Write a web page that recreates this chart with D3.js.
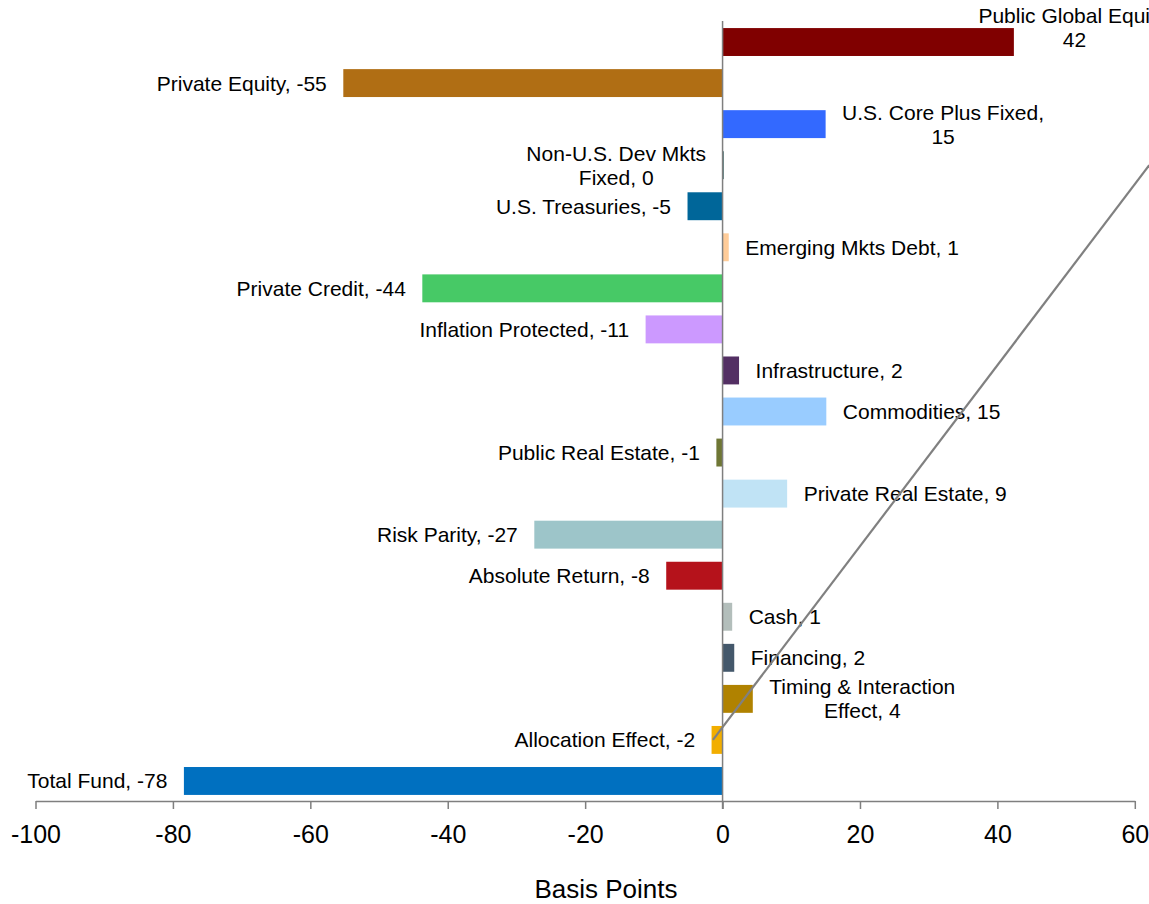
<!DOCTYPE html>
<html>
<head>
<meta charset="utf-8">
<script src="https://cdn.jsdelivr.net/npm/d3@7/dist/d3.min.js"></script>
<style>
  html, body { margin: 0; padding: 0; background: #fff; }
  svg { display: block; font-family: "Liberation Sans", Arial, sans-serif; }
</style>
</head>
<body>
<svg id="chart" width="1149" height="904"></svg>
<script>
// ---- data ----
const categories = [
  "Public Global Equity", "Private Equity", "U.S. Core Plus Fixed", "Non-U.S. Dev Mkts Fixed",
  "U.S. Treasuries", "Emerging Mkts Debt", "Private Credit", "Inflation Protected",
  "Infrastructure", "Commodities", "Public Real Estate", "Private Real Estate",
  "Risk Parity", "Absolute Return", "Cash", "Financing",
  "Timing & Interaction Effect", "Allocation Effect", "Total Fund"
];
const values = [
  42.4, -55.2, 15.0, 0.15,
  -5.1, 0.9, -43.7, -11.2,
  2.4, 15.1, -0.9, 9.4,
  -27.4, -8.2, 1.4, 1.7,
  4.4, -1.6, -78.4
];
const labelValues = [42, -55, 15, 0, -5, 1, -44, -11, 2, 15, -1, 9, -27, -8, 1, 2, 4, -2, -78];
const colors = [
  "#800000", "#B06E14", "#3369FF", "#003B3B",
  "#006699", "#FFCC99", "#47C966", "#CC99FF",
  "#532F63", "#99CCFF", "#6F7735", "#C0E3F5",
  "#9DC5C9", "#B5121B", "#B3BEBB", "#44586B",
  "#B08200", "#F2AE00", "#0070C0"
];
const wrapFirstLine = {
  "Public Global Equity": "Public Global Equity,",
  "U.S. Core Plus Fixed": "U.S. Core Plus Fixed,",
  "Non-U.S. Dev Mkts Fixed": "Non-U.S. Dev Mkts",
  "Timing & Interaction Effect": "Timing & Interaction"
};
const xTicks = [-100, -80, -60, -40, -20, 0, 20, 40, 60];
const xTitle = "Basis Points";
// grey connector line in data coordinates
const guideLine = [
  { cat: "Allocation Effect", v: -1.4 },
  { cat: "Non-U.S. Dev Mkts Fixed", v: 62.1 }
];

// ---- layout ----
const svg = d3.select("#chart");
const x = d3.scaleLinear().domain([-100, 60]).range([35.5, 1134.8]);
const y = d3.scaleBand().domain(categories).range([21.5, 801.5])
  .paddingInner(0.32).paddingOuter(0.16);
const axisY = 801;
const LABEL_FS = 21, LINE_H = 24, GAP = 16.5;

const rows = categories.map((c, i) => ({ cat: c, v: values[i], lv: labelValues[i], color: colors[i] }));

// bars
svg.append("g").selectAll("rect").data(rows).join("rect")
  .attr("x", d => x(Math.min(0, d.v)))
  .attr("y", d => y(d.cat))
  .attr("width", d => Math.max(1, Math.abs(x(d.v) - x(0))))
  .attr("height", y.bandwidth())
  .attr("fill", d => d.color);

// zero line
svg.append("line")
  .attr("x1", x(0)).attr("x2", x(0))
  .attr("y1", 21).attr("y2", axisY + 8)
  .attr("stroke", "#7f7f7f").attr("stroke-width", 1.5);

// x axis
const axis = d3.axisBottom(x).tickValues(xTicks).tickSize(8).tickSizeOuter(0).tickFormat(d3.format("d"));
const gx = svg.append("g").attr("transform", `translate(0,${axisY})`).call(axis);
gx.select(".domain").attr("stroke", "#7f7f7f").attr("stroke-width", 1.5);
gx.selectAll(".tick line").attr("stroke", "#7f7f7f").attr("stroke-width", 1.5);
gx.selectAll(".tick text")
  .attr("font-size", 25).attr("fill", "#000").attr("y", 42).attr("dy", 0)
  .attr("font-family", "Liberation Sans, Arial, sans-serif")
  .text(d => d < 0 ? "-" + Math.abs(d) : d);

// axis title
svg.append("text")
  .attr("x", 606).attr("y", 898)
  .attr("text-anchor", "middle")
  .attr("font-size", 26).attr("fill", "#000")
  .text(xTitle);

// data labels
const lg = svg.append("g").attr("font-size", LABEL_FS).attr("fill", "#000");
rows.forEach(d => {
  const full = `${d.cat}, ${d.lv}`;
  const first = wrapFirstLine[d.cat];
  const lines = first ? [first, full.slice(first.length).trim()] : [full];
  const cy = y(d.cat) + y.bandwidth() / 2;
  const pos = d.v > 0.5;
  const edge = pos ? x(d.v) + GAP : x(Math.min(0, d.v)) - GAP;
  const t = lg.append("text");
  let baseY = cy - (lines.length - 1) * LINE_H / 2 + 7.5;
  // the top label is constrained to the plot area in the original
  let cx = null;
  if (d.cat === "Public Global Equity") { baseY = 23; cx = 1074.5; }
  if (lines.length === 1) {
    t.attr("x", edge).attr("y", baseY)
      .attr("text-anchor", pos ? "start" : "end").text(lines[0]);
  } else {
    // measure widest line to center the block
    lines.forEach((ln, k) => {
      t.append("tspan").attr("y", baseY + k * LINE_H).text(ln);
    });
    const widths = [];
    t.selectAll("tspan").each(function () { widths.push(this.getComputedTextLength()); });
    const w = Math.max(...widths);
    const center = cx !== null ? cx : (pos ? edge + w / 2 : edge - w / 2);
    t.attr("text-anchor", "middle");
    t.selectAll("tspan").attr("x", center);
  }
});

// grey guide line (drawn on top)
svg.append("line")
  .attr("x1", x(guideLine[0].v)).attr("y1", y(guideLine[0].cat) + y.bandwidth() / 2)
  .attr("x2", x(guideLine[1].v)).attr("y2", y(guideLine[1].cat) + y.bandwidth() / 2)
  .attr("stroke", "#808080").attr("stroke-width", 2.2);
</script>
</body>
</html>
